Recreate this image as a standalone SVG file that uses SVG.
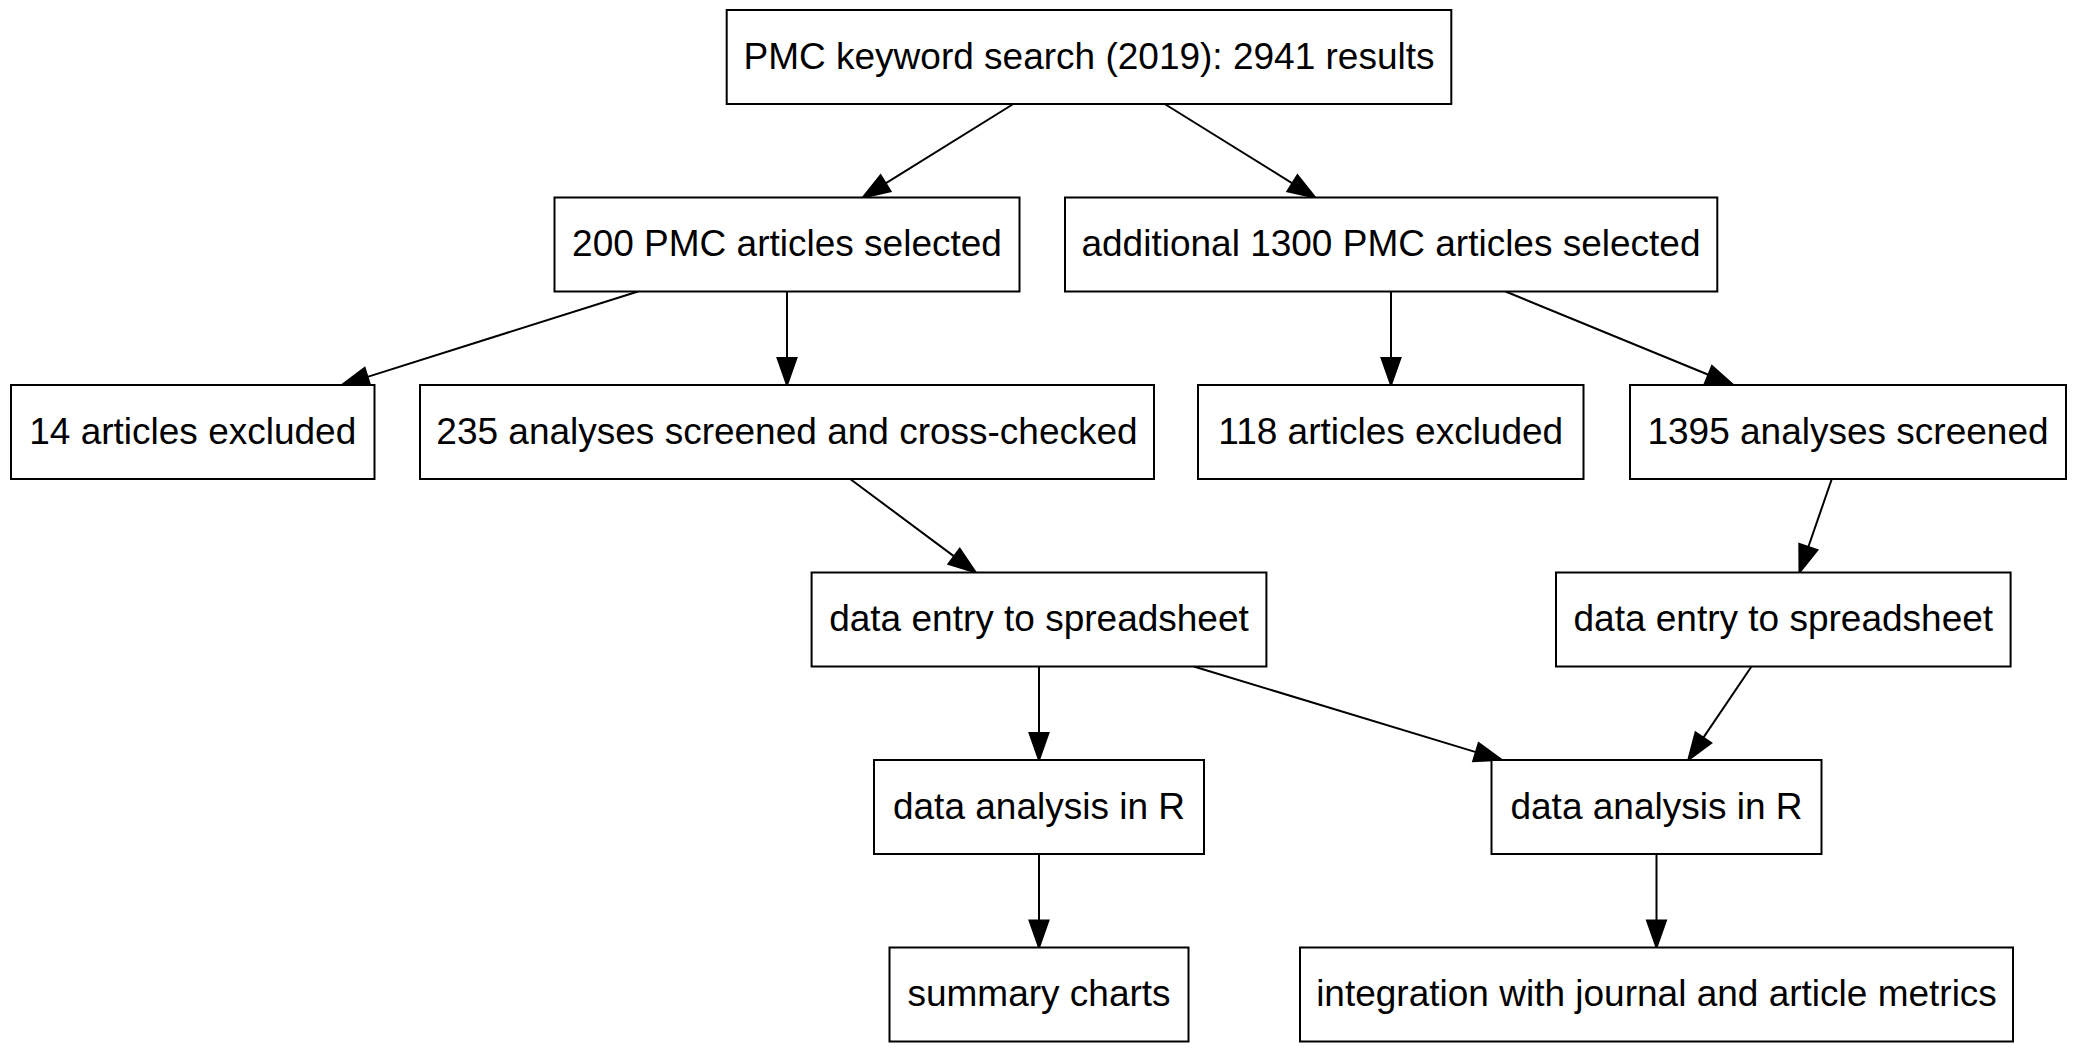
<svg xmlns="http://www.w3.org/2000/svg" width="2079" height="1052" viewBox="0 0 2079 1052">
<style>
.node rect { fill: #ffffff; stroke: #000000; stroke-width: 2; }
.node text { font-family: "Liberation Sans", Arial, Helvetica, sans-serif; font-size: 37px; fill: #000000; text-anchor: middle; }
.edges path { fill: none; stroke: #000000; stroke-width: 2; marker-end: url(#arrow); }
</style>
<defs>
<marker id="arrow" markerUnits="userSpaceOnUse" viewBox="-1 -11 30 22" refX="0" refY="0" markerWidth="30" markerHeight="22" orient="auto" overflow="visible">
<path d="M0,-9.5 L27,0 L0,9.5 Z" fill="#000000" stroke="#000000" stroke-width="2"/>
</marker>
</defs>
<rect x="0" y="0" width="2079" height="1052" fill="#ffffff"/>
<g class="edges" id="connectors">
<path d="M1013.3,104 L885.6,183.3"/>
<path d="M1164.7,104 L1292.4,183.3"/>
<path d="M638,291.5 L367.5,376.9"/>
<path d="M787,291.5 L787,358"/>
<path d="M1391,291.5 L1391,358"/>
<path d="M1505.6,291.5 L1708.4,374.75"/>
<path d="M850.2,479 L954.1,556.4"/>
<path d="M1831.8,479 L1808.3,547"/>
<path d="M1039,666.5 L1039,733"/>
<path d="M1193.8,666.5 L1475.9,752.15"/>
<path d="M1751.5,666.5 L1703.4,737.6"/>
<path d="M1039,854 L1039,920.5"/>
<path d="M1656.5,854 L1656.5,920.5"/>
</g>
<g class="node" id="n_search"><rect x="726.7" y="10" width="724.6" height="94"/><text x="1089" y="68.5">PMC keyword search (2019): 2941 results</text></g>
<g class="node" id="n_200"><rect x="554.5" y="197.5" width="465" height="94"/><text x="787" y="256">200 PMC articles selected</text></g>
<g class="node" id="n_1300"><rect x="1065" y="197.5" width="652.3" height="94"/><text x="1391" y="256">additional 1300 PMC articles selected</text></g>
<g class="node" id="n_14"><rect x="11" y="385" width="363.5" height="94"/><text x="192.75" y="443.5">14 articles excluded</text></g>
<g class="node" id="n_235"><rect x="420" y="385" width="734" height="94"/><text x="787" y="443.5">235 analyses screened and cross-checked</text></g>
<g class="node" id="n_118"><rect x="1198" y="385" width="385.5" height="94"/><text x="1390.75" y="443.5">118 articles excluded</text></g>
<g class="node" id="n_1395"><rect x="1630" y="385" width="436" height="94"/><text x="1848" y="443.5">1395 analyses screened</text></g>
<g class="node" id="n_de1"><rect x="811.6" y="572.5" width="454.8" height="94"/><text x="1039" y="631">data entry to spreadsheet</text></g>
<g class="node" id="n_de2"><rect x="1556" y="572.5" width="454.6" height="94"/><text x="1783.3" y="631">data entry to spreadsheet</text></g>
<g class="node" id="n_an1"><rect x="874" y="760" width="330" height="94"/><text x="1039" y="818.5">data analysis in R</text></g>
<g class="node" id="n_an2"><rect x="1491.5" y="760" width="330" height="94"/><text x="1656.5" y="818.5">data analysis in R</text></g>
<g class="node" id="n_sum"><rect x="889.5" y="947.5" width="299" height="94"/><text x="1039" y="1006">summary charts</text></g>
<g class="node" id="n_int"><rect x="1300" y="947.5" width="713" height="94"/><text x="1656.5" y="1006">integration with journal and article metrics</text></g>
</svg>
